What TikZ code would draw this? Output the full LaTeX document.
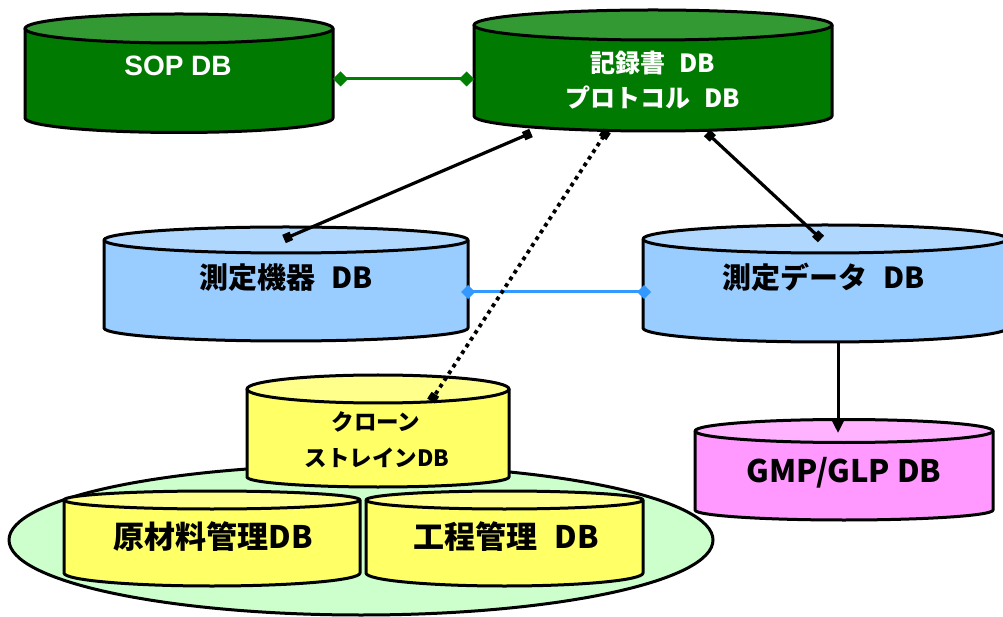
\documentclass[tikz,border=0pt]{standalone}
\usepackage{fontspec}
\setmainfont{Liberation Sans}
\newfontfamily\jp{Noto Sans CJK JP}
\usetikzlibrary{arrows.meta}
\definecolor{dgreen}{RGB}{0,122,0}
\definecolor{dgreentop}{RGB}{51,153,51}
\definecolor{lblue}{RGB}{153,204,255}
\definecolor{lbluetop}{RGB}{176,216,255}
\definecolor{lyellow}{RGB}{255,255,102}
\definecolor{lyellowtop}{RGB}{255,255,140}
\definecolor{lpink}{RGB}{255,153,255}
\definecolor{lpinktop}{RGB}{255,178,255}
\definecolor{paleg}{RGB}{204,255,204}
\definecolor{lnkgreen}{RGB}{0,128,0}
\definecolor{lnkblue}{RGB}{51,153,255}
\tikzset{
  cylline/.style={draw=black, line width=3pt, line join=round},
  lbl/.style={inner sep=0pt, font=\jp\bfseries},
  greenlink/.style={draw=lnkgreen, line width=3pt, {Diamond[length=15pt,width=15pt]}-{Diamond[length=15pt,width=15pt]}},
  bluelink/.style={draw=lnkblue, line width=3pt, {Diamond[length=14pt,width=14pt]}-{Diamond[length=14pt,width=14pt]}},
  sqlink/.style={draw=black, line width=3.2pt, {Square[length=8pt,width=9pt]}-{Square[length=8pt,width=9pt]}},
  dotlink/.style={draw=black, line width=3.8pt, dash pattern=on 3.8pt off 4.2pt, {Square[length=8pt,width=9pt]}-{Square[length=8pt,width=9pt]}},
  arrlink/.style={draw=black, line width=3pt, -{Triangle[length=12pt,width=11pt]}}
}
\newcommand\gap{\hspace{0.55em}}
% name, left, right, topY, ryTop, bottomY, ryBottom, body colour, top colour
\newcommand\dbcyl[9]{%
  \pgfmathsetmacro\cylrx{(#3-#2)/2}%
  \pgfmathsetmacro\cylcx{(#3+#2)/2}%
  \pgfmathsetmacro\cylcy{(#4+#6)/2}%
  \pgfmathsetmacro\cylw{#3-#2}%
  \pgfmathsetmacro\cylh{#4-#6}%
  \filldraw[cylline, fill=#8] (#2,#4) -- (#2,#6) arc[start angle=180, end angle=360, x radius=\cylrx, y radius=#7] -- (#3,#4) -- cycle;
  \filldraw[cylline, fill=#9] (\cylcx,#4) ellipse[x radius=\cylrx, y radius=#5];
  \node[inner sep=0pt, minimum width=\cylw pt, minimum height=\cylh pt] (#1) at (\cylcx,\cylcy) {};
}
\begin{document}
\begin{tikzpicture}[x=1pt,y=1pt]
\useasboundingbox (0,0) rectangle (1003,616);
\fill[white] (0,0) rectangle (1003,616);

% group ellipse
\filldraw[cylline, fill=paleg] (361,76) ellipse[x radius=352, y radius=75];
\node[inner sep=0pt] (grp) at (361,76) {};

% cylinders
\dbcyl{sop}{25}{333}{587.5}{14.5}{498}{14.5}{dgreen}{dgreentop}
\dbcyl{rec}{474}{832}{591}{15}{500}{15}{dgreen}{dgreentop}
\dbcyl{kiki}{104}{468}{376}{13}{288}{13}{lblue}{lbluetop}
\dbcyl{data}{643}{1007}{377}{14}{288}{14}{lblue}{lbluetop}
\dbcyl{gmp}{695}{993}{185}{11.5}{106}{10}{lpink}{lpinktop}
\dbcyl{clone}{247}{509}{227}{14}{139}{10}{lyellow}{lyellowtop}
\dbcyl{genzai}{64}{360}{116}{9}{43}{13}{lyellow}{lyellowtop}
\dbcyl{kotei}{366}{643}{116}{9}{43}{13}{lyellow}{lyellowtop}

% labels
\node[inner sep=0pt, text=white, font=\bfseries\fontsize{28}{34}\selectfont] (sopt) at (178,550) {SOP DB};
\node[lbl, text=white, font=\jp\bfseries\fontsize{25}{30}\selectfont] (rect1) at (653,553) {記録書\gap DB};
\node[lbl, text=white, font=\jp\bfseries\fontsize{25}{30}\selectfont] (rect2) at (653,518) {プロトコル\gap DB};
\node[lbl, font=\jp\bfseries\fontsize{29}{32}\selectfont] (kikit) at (286,338) {測定機器\gap DB};
\node[lbl, font=\jp\bfseries\fontsize{29}{32}\selectfont] (datat) at (824,339) {測定データ\gap DB};
\node[lbl, font=\jp\bfseries\fontsize{31}{34}\selectfont] (gmpt) at (844,143) {GMP/GLP DB};
\node[lbl, font=\jp\bfseries\fontsize{22.5}{26}\selectfont] (clonet1) at (376,194) {クローン};
\node[lbl, font=\jp\bfseries\fontsize{22.5}{26}\selectfont] (clonet2) at (377,158) {ストレインDB};
\node[lbl, font=\jp\bfseries\fontsize{31}{34}\selectfont] (genzait) at (213,79) {原材料管理DB};
\node[lbl, font=\jp\bfseries\fontsize{31}{34}\selectfont] (koteit) at (506,79) {工程管理\gap DB};

% connector end points
\coordinate (sopR) at (333,537);
\coordinate (recL) at (474,537);
\coordinate (kikiR) at (461,324);
\coordinate (dataL) at (651,324);
\coordinate (recB1) at (531,483);
\coordinate (kikiT) at (284,377);
\coordinate (recB2) at (607,485);
\coordinate (cloneT) at (431,215);
\coordinate (recB3) at (707,483);
\coordinate (dataT) at (821,377);
\coordinate (dataB) at (838,274);
\coordinate (gmpT) at (838,183);

% connectors
\draw[greenlink] (sopR) -- (recL);
\draw[bluelink] (kikiR) -- (dataL);
\draw[sqlink] (recB1) -- (kikiT);
\draw[dotlink] (recB2) -- (cloneT);
\draw[sqlink] (recB3) -- (dataT);
\draw[arrlink] (dataB) -- (gmpT);
\end{tikzpicture}
\end{document}
